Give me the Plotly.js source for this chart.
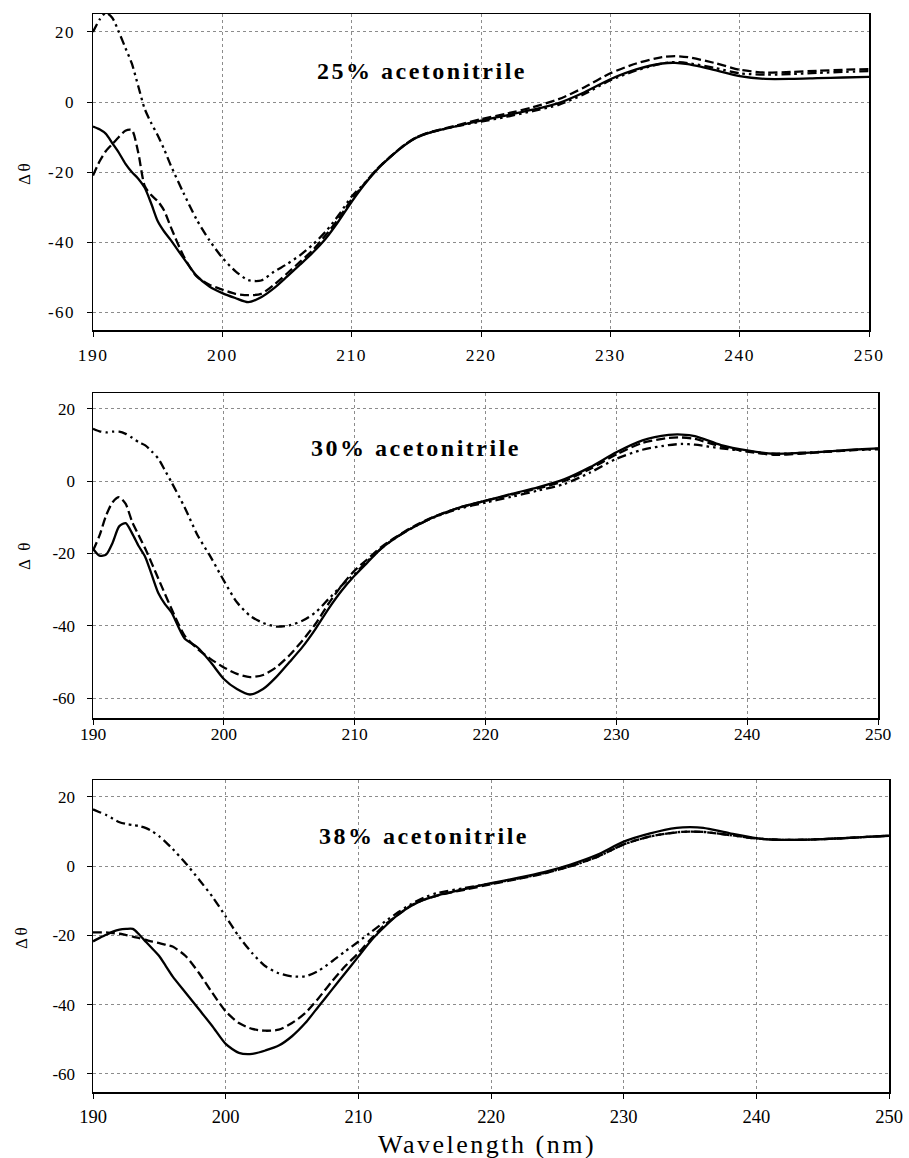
<!DOCTYPE html>
<html>
<head>
<meta charset="utf-8">
<script src="https://cdn.plot.ly/plotly-3.0.1.min.js"></script>
<style>
  html, body { margin: 0; padding: 0; background: #fff; }
  #chart { width: 909px; height: 1158px; }
  .xtick text, .ytick text { letter-spacing: 1.5px; }
  .annotation-text { letter-spacing: 2.5px; }
</style>
</head>
<body>
<div id="chart"></div>
<script>
// ---------------- DATA ----------------
const WAVELENGTH = [190, 190.5, 191, 191.5, 192, 192.5, 193, 193.5, 194, 194.5, 195, 195.5,
  196, 197, 198, 199, 200, 201, 202, 203, 204, 205, 206, 207, 208, 209, 210, 211, 212, 213,
  214, 215, 216, 218, 220, 222, 224, 226, 228, 230, 232, 234, 235, 236, 238, 240, 242, 244,
  246, 248, 250];

const PANEL_TITLES = ['25% acetonitrile', '30% acetonitrile', '38% acetonitrile'];
const Y_TITLES = ['\u0394\u03b8', '\u0394 \u03b8', '\u0394\u03b8'];
const X_TITLE = 'Wavelength (nm)';
const X_TICKS = [190, 200, 210, 220, 230, 240, 250];
const X_TICK_LABELS = ['190', '200', '210', '220', '230', '240', '250'];
const Y_TICKS = [-60, -40, -20, 0, 20];
const Y_TICK_LABELS = ['-60', '-40', '-20', '0', '20'];

// 25% acetonitrile
const ACN25_SOLID = [-7.0, -7.8, -9.1, -11.8, -14.5, -17.6, -20.0, -21.9, -24.5, -29.0, -34.0, -37.0,
  -39.4, -44.6, -49.6, -52.7, -54.6, -56.0, -57.2, -55.8, -53.2, -49.9, -46.5, -43.0, -39.0, -34.0,
  -28.5, -23.5, -19.2, -15.7, -12.6, -10.2, -8.8, -7.0, -5.3, -3.8, -2.2, -0.3, 2.8, 6.5, 9.3, 11.0,
  11.2, 10.8, 9.2, 7.4, 6.6, 6.6, 6.8, 7.0, 7.2];
const ACN25_DASH = [-21.0, -17.0, -14.0, -12.0, -10.0, -8.2, -8.0, -14.5, -24.0, -26.6, -28.3, -31.0,
  -35.6, -44.0, -49.8, -52.2, -53.6, -54.8, -55.2, -54.8, -52.2, -49.0, -45.7, -42.3, -38.0, -33.3,
  -27.8, -23.3, -19.0, -15.6, -12.5, -10.1, -8.7, -6.8, -4.9, -3.3, -1.5, 0.8, 4.2, 8.2, 11.0, 12.8,
  13.1, 12.8, 11.2, 9.2, 8.4, 8.6, 8.9, 9.2, 9.4];
const ACN25_DASHDOT = [20.0, 23.5, 25.5, 24.0, 20.0, 15.5, 11.0, 4.5, -2.0, -6.0, -9.5, -13.5,
  -18.0, -26.0, -33.5, -39.5, -44.5, -48.3, -50.9, -51.0, -48.5, -46.3, -43.8, -40.7, -37.0, -32.3,
  -27.0, -23.2, -19.0, -15.6, -12.5, -10.1, -8.8, -7.0, -5.6, -4.2, -2.6, -0.8, 2.3, 6.2, 9.0, 11.0,
  11.4, 11.1, 9.8, 8.2, 7.8, 8.0, 8.3, 8.6, 8.8];

// 30% acetonitrile
const ACN30_SOLID = [-18.7, -20.6, -20.3, -17.0, -12.5, -11.6, -14.5, -18.0, -21.0, -26.0, -31.0, -34.0,
  -36.3, -43.5, -46.0, -50.1, -54.7, -57.5, -59.0, -57.5, -54.2, -50.1, -45.9, -40.9, -35.3, -30.3,
  -26.1, -22.4, -18.7, -16.0, -13.7, -11.8, -10.0, -7.3, -5.4, -3.5, -1.7, 0.5, 3.9, 8.0, 11.3, 12.8,
  12.9, 12.5, 10.0, 8.5, 7.6, 7.8, 8.2, 8.7, 9.1];
const ACN30_DASH = [-19.2, -15.0, -9.5, -5.8, -4.4, -6.3, -11.3, -15.0, -18.7, -22.8, -27.0, -31.2,
  -35.3, -42.7, -46.4, -49.2, -51.5, -53.3, -54.2, -53.6, -51.5, -48.2, -44.1, -39.5, -33.9, -28.9,
  -24.7, -21.5, -18.3, -15.8, -13.5, -11.6, -9.9, -7.3, -5.4, -3.7, -2.0, 0.0, 3.4, 7.4, 10.6, 12.0,
  12.1, 11.7, 9.6, 8.2, 7.3, 7.6, 8.1, 8.6, 9.0];
const ACN30_DASHDOT = [14.5, 13.8, 13.5, 13.7, 13.7, 13.1, 12.0, 10.8, 9.9, 8.2, 6.2, 3.0,
  -0.3, -7.2, -15.0, -21.0, -27.5, -33.5, -37.2, -39.2, -40.2, -39.9, -38.6, -36.3, -32.6, -28.9,
  -25.6, -22.0, -18.7, -16.0, -13.7, -11.8, -10.1, -7.6, -5.9, -4.3, -2.6, -0.8, 2.4, 6.2, 8.7, 10.0,
  10.3, 10.1, 9.1, 8.3, 7.6, 7.8, 8.2, 8.6, 8.8];

// 38% acetonitrile
const ACN38_SOLID = [-21.7, -20.7, -19.8, -18.9, -18.3, -18.1, -18.1, -19.8, -21.9, -23.9, -26.0, -28.9,
  -31.8, -36.6, -41.4, -46.2, -51.3, -53.9, -54.2, -53.2, -51.8, -49.1, -45.3, -40.5, -35.7, -30.9,
  -26.1, -21.3, -17.4, -14.0, -11.4, -9.6, -8.4, -6.6, -4.9, -3.4, -1.7, 0.5, 3.3, 7.1, 9.5, 11.1,
  11.3, 11.1, 9.5, 8.1, 7.6, 7.7, 8.0, 8.4, 8.8];
const ACN38_DASH = [-19.1, -19.1, -19.1, -19.3, -19.5, -19.9, -20.3, -20.8, -21.3, -21.8, -22.2, -22.7,
  -23.2, -26.0, -30.9, -36.6, -41.9, -45.3, -47.0, -47.5, -47.2, -45.3, -42.4, -38.1, -33.3, -28.9,
  -25.1, -20.8, -16.9, -14.0, -11.3, -9.6, -8.4, -6.8, -5.2, -3.7, -2.1, 0.0, 2.7, 6.3, 8.6, 9.8,
  10.0, 9.9, 9.0, 8.0, 7.6, 7.7, 8.0, 8.4, 8.8];
const ACN38_DASHDOT = [16.4, 15.6, 14.8, 13.7, 12.7, 12.2, 11.9, 11.6, 11.0, 10.0, 8.6, 6.9,
  5.0, 0.8, -3.9, -8.8, -14.5, -20.3, -25.1, -28.9, -30.9, -31.8, -31.8, -30.2, -27.5, -24.6,
  -21.8, -18.9, -16.0, -13.3, -10.9, -9.0, -7.7, -6.3, -5.0, -3.6, -2.0, 0.0, 2.7, 6.3, 8.6, 9.8,
  10.0, 9.9, 9.0, 8.0, 7.6, 7.7, 8.0, 8.4, 8.8];

// ---------------- STYLE / LAYOUT ----------------
const W = 909, H = 1158;
const SERIF = 'Liberation Serif';
const DASH_STYLES = ['solid', '9px,4px', '9px,4px,2.5px,4px,2.5px,4px'];

// plot boxes in pixels: [left, right, top, bottom]
const BOXES = [[93, 869, 14, 330], [93, 878, 393, 718], [93, 889, 780, 1092]];
const Y_RANGES = [[-65.14, 25.14], [-65.5, 24.4], [-65.2, 24.9]];
const X_TICK_SIZES = [17.5, 17.5, 18.5];
const X_LABEL_STANDOFF = [3, -6, 2];

const panels = [
  [ACN25_SOLID, ACN25_DASH, ACN25_DASHDOT],
  [ACN30_SOLID, ACN30_DASH, ACN30_DASHDOT],
  [ACN38_SOLID, ACN38_DASH, ACN38_DASHDOT]
];

const traces = [];
panels.forEach((series, p) => {
  const sfx = p === 0 ? '' : String(p + 1);
  series.forEach((vals, s) => {
    traces.push({
      type: 'scatter', mode: 'lines',
      x: WAVELENGTH, y: vals,
      xaxis: 'x' + sfx, yaxis: 'y' + sfx,
      line: { color: '#000', width: 2.3, dash: DASH_STYLES[s], shape: 'spline', smoothing: 0.7 },
      showlegend: false, hoverinfo: 'skip'
    });
  });
});

const layout = {
  width: W, height: H,
  margin: { l: 0, r: 0, t: 0, b: 0 },
  paper_bgcolor: '#fff', plot_bgcolor: '#fff',
  showlegend: false,
  annotations: []
};

BOXES.forEach((b, p) => {
  const sfx = p === 0 ? '' : String(p + 1);
  const common = {
    showline: true, linecolor: '#000', linewidth: 1.5, mirror: true,
    ticks: 'outside', ticklen: 5, tickwidth: 1, tickcolor: '#000',
    showgrid: true, gridcolor: '#8c8c8c', gridwidth: 1, griddash: 'dot',
    zeroline: false, fixedrange: true
  };
  layout['xaxis' + sfx] = Object.assign({}, common, {
    domain: [b[0] / W, b[1] / W],
    anchor: 'y' + sfx,
    range: [190, 250],
    tickmode: 'array', tickvals: X_TICKS, ticktext: X_TICK_LABELS,
    tickfont: { family: SERIF, size: X_TICK_SIZES[p], color: '#000' },
    ticklabelstandoff: X_LABEL_STANDOFF[p]
  });
  layout['yaxis' + sfx] = Object.assign({}, common, {
    domain: [1 - b[3] / H, 1 - b[2] / H],
    anchor: 'x' + sfx,
    range: Y_RANGES[p],
    tickmode: 'array', tickvals: Y_TICKS, ticktext: Y_TICK_LABELS,
    tickfont: { family: SERIF, size: 17, color: '#000' },
    ticklabelstandoff: 8
  });
});

// panel titles
const TITLE_POS = [[422, 70.5], [416, 448], [424, 835.5]];
TITLE_POS.forEach((pos, p) => {
  layout.annotations.push({
    xref: 'paper', yref: 'paper', x: pos[0] / W, y: 1 - pos[1] / H,
    xanchor: 'center', yanchor: 'middle', showarrow: false,
    text: '<b>' + PANEL_TITLES[p] + '</b>',
    font: { family: SERIF, size: 24, color: '#000' }
  });
});

// y axis titles
const YT_POS = [[25, 173], [25, 555], [21, 937]];
YT_POS.forEach((pos, p) => {
  layout.annotations.push({
    xref: 'paper', yref: 'paper', x: pos[0] / W, y: 1 - pos[1] / H,
    xanchor: 'center', yanchor: 'middle', showarrow: false, textangle: -90,
    text: Y_TITLES[p],
    font: { family: SERIF, size: 17, color: '#000' }
  });
});

// x axis title
layout.annotations.push({
  xref: 'paper', yref: 'paper', x: 487 / W, y: 1 - 1144 / H,
  xanchor: 'center', yanchor: 'middle', showarrow: false,
  text: X_TITLE,
  font: { family: SERIF, size: 26, color: '#000' }
});

Plotly.newPlot('chart', traces, layout, { staticPlot: true, displayModeBar: false });
</script>
</body>
</html>
